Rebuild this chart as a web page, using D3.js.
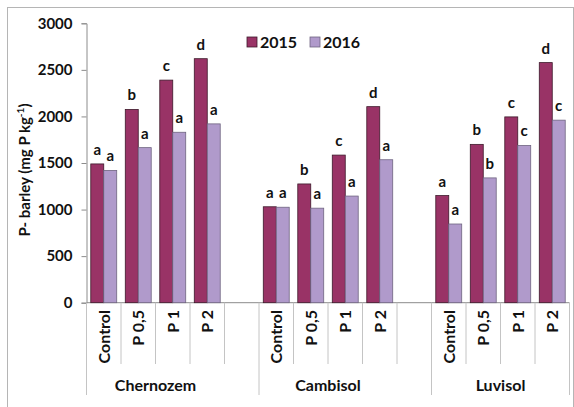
<!DOCTYPE html>
<meta charset="utf-8">
<style>
body { margin: 0; background: #fff; }
text { font-family: Lato, "Open Sans", sans-serif; font-weight: bold; fill: #111; }
.axis path, .axis line { stroke: #8c8c8c; }
</style>
<svg width="574" height="407"></svg>
<script src="https://cdn.jsdelivr.net/npm/d3@7"></script>
<script>

var soils = ["Chernozem", "Cambisol", "Luvisol"];
var treatments = ["Control", "P 0,5", "P 1", "P 2"];
var years = ["2015", "2016"];

// values per soil, in treatment order
var v2015 = {
  Chernozem: [1490, 2075, 2390, 2620],
  Cambisol:  [1030, 1275, 1585, 2105],
  Luvisol:   [1150, 1700, 1995, 2578]
};
var v2016 = {
  Chernozem: [1420, 1665, 1830, 1920],
  Cambisol:  [1025, 1015, 1145, 1535],
  Luvisol:   [845, 1340, 1688, 1960]
};
var l2015 = {
  Chernozem: ["a", "b", "c", "d"],
  Cambisol:  ["a", "b", "c", "d"],
  Luvisol:   ["a", "b", "c", "d"]
};
var l2016 = {
  Chernozem: ["a", "a", "a", "a"],
  Cambisol:  ["a", "a", "a", "a"],
  Luvisol:   ["a", "b", "c", "c"]
};
var yTicks = [0, 500, 1000, 1500, 2000, 2500, 3000];

var svg = d3.select("svg");

var color = d3.scaleOrdinal().domain(years).range(["#993366", "#b09acb"]);

// frame
svg.append("rect")
    .attr("x", 7.5).attr("y", 7.5)
    .attr("width", 566).attr("height", 400)
    .attr("fill", "none")
    .attr("stroke", "#b5b5b5");

// slots: 4 treatments + spacer per soil, no spacer after last
var slots = [];
soils.forEach(function(s, i) {
  treatments.forEach(function(t) { slots.push(s + "|" + t); });
  if (i < soils.length - 1) slots.push(s + "|gap");
});

var x0 = d3.scaleBand().domain(slots).range([86.5, 569.5]);
var x1 = d3.scaleBand().domain(years).range([0, x0.bandwidth()]).paddingOuter(0.33);
var y = d3.scaleLinear().domain([0, 3000]).range([302.7, 23.3]);

var rows = [];
soils.forEach(function(s) {
  treatments.forEach(function(t, i) {
    rows.push({ slot: s + "|" + t, year: "2015", value: v2015[s][i], letter: l2015[s][i] });
    rows.push({ slot: s + "|" + t, year: "2016", value: v2016[s][i], letter: l2016[s][i] });
  });
});

// y axis
var yAxis = svg.append("g")
    .attr("class", "axis")
    .attr("transform", "translate(86.5,0)")
    .call(d3.axisLeft(y).tickValues(yTicks).tickSize(5).tickPadding(9).tickFormat(d3.format("d")));
yAxis.selectAll("text").style("font-size", "15px");

svg.append("text")
    .attr("transform", "translate(30," + 170 + ") rotate(-90)")
    .attr("text-anchor", "middle")
    .style("font-size", "15px")
    .text("P- barley (mg P kg")
  .append("tspan")
    .attr("dy", -6).style("font-size", "10px").text("-1")
  .select(function() { return this.parentNode; })
  .append("tspan")
    .attr("dy", 6).text(")");

// x axis line
svg.append("line")
    .attr("x1", 86.5).attr("x2", 569.5)
    .attr("y1", y(0)).attr("y2", y(0))
    .attr("stroke", "#8c8c8c");

// separators
var bounds = slots.map(function(d) { return x0(d) + x0.bandwidth(); });
svg.selectAll(".sep")
  .data(bounds)
  .enter().append("line")
    .attr("class", "sep")
    .attr("x1", function(d) { return d; })
    .attr("x2", function(d) { return d; })
    .attr("y1", y(0))
    .attr("y2", function(d, i) { return /gap$/.test(slots[i]) || i === slots.length - 1 ? 395 : 364; })
    .attr("stroke", "#c4c4c4");
svg.append("line")
    .attr("x1", 86.5).attr("x2", 86.5)
    .attr("y1", y(0)).attr("y2", 395)
    .attr("stroke", "#c4c4c4");

// bars
svg.selectAll(".bar")
  .data(rows)
  .enter().append("rect")
    .attr("class", "bar")
    .attr("x", function(d) { return x0(d.slot) + x1(d.year); })
    .attr("y", function(d) { return y(d.value); })
    .attr("width", x1.bandwidth())
    .attr("height", function(d) { return y(0) - y(d.value); })
    .attr("fill", function(d) { return color(d.year); })
    .attr("stroke", function(d) { return d.year === "2015" ? "#3d1a2b" : "#6f6480"; })
    .attr("stroke-width", 0.8);

svg.selectAll(".letter")
  .data(rows)
  .enter().append("text")
    .attr("class", "letter")
    .attr("x", function(d) { return x0(d.slot) + x1(d.year) + x1.bandwidth() / 2; })
    .attr("y", function(d) { return y(d.value) - 9; })
    .attr("text-anchor", "middle")
    .style("font-size", "15px")
    .text(function(d) { return d.letter; });

// category labels
svg.selectAll(".cat")
  .data(slots.filter(function(d) { return !/gap$/.test(d); }))
  .enter().append("text")
    .attr("class", "cat")
    .attr("transform", function(d) {
      return "translate(" + (x0(d) + x0.bandwidth() / 2 + 6) + ",310) rotate(-90)";
    })
    .attr("text-anchor", "end")
    .style("font-size", "16px")
    .text(function(d) { return d.split("|")[1]; });

// group labels
svg.selectAll(".soil")
  .data(soils)
  .enter().append("text")
    .attr("class", "soil")
    .attr("x", function(s) {
      return (x0(s + "|Control") + x0(s + "|P 2") + x0.bandwidth()) / 2;
    })
    .attr("y", 391)
    .attr("text-anchor", "middle")
    .style("font-size", "16px")
    .text(function(s) { return s; });

// legend
var legend = svg.selectAll(".legend")
  .data(years)
  .enter().append("g")
    .attr("class", "legend")
    .attr("transform", function(d, i) { return "translate(" + (247 + i * 63) + ",37)"; });
legend.append("rect")
    .attr("width", 10).attr("height", 10)
    .attr("fill", function(d) { return color(d); })
    .attr("stroke", function(d) { return d === "2015" ? "#3d1a2b" : "#6f6480"; })
    .attr("stroke-width", 0.8);
legend.append("text")
    .attr("x", 13).attr("y", 10.5)
    .style("font-size", "16px")
    .text(function(d) { return d; });

</script>
